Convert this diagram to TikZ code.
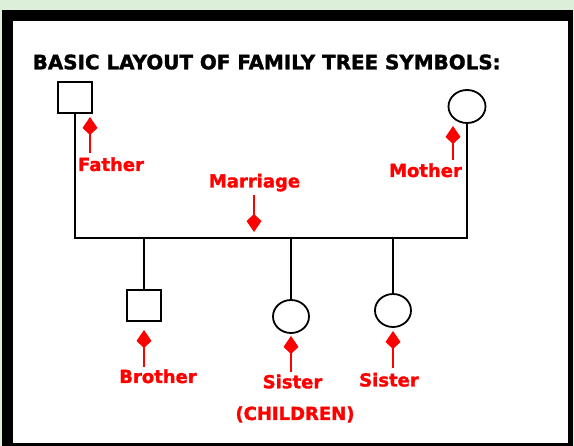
\documentclass[tikz,border=0pt]{standalone}
\usepackage{fontspec}
\setmainfont{DejaVu Sans}
\newfontfamily\heavyfont[FakeBold=1.6]{DejaVu Sans Bold}
\usetikzlibrary{arrows.meta,shapes.geometric}
\definecolor{bgreen}{HTML}{DCEFD8}
\definecolor{lred}{HTML}{FF0000}
\tikzset{
  male/.style={draw=black, line width=2pt, minimum width=34pt, minimum height=31pt, inner sep=0pt},
  female/.style={ellipse, draw=black, line width=1.8pt, inner sep=0pt},
  link/.style={draw=black, line width=2pt},
  lbl/.style={text=lred, font=\heavyfont\fontsize{18}{18}\selectfont, anchor=base, inner sep=0pt},
  pointer/.style={draw=lred, line width=2pt, -{Kite[length=18pt,width=15pt,inset=7pt]}},
}
\begin{document}
\begin{tikzpicture}[x=1pt,y=-1pt]
\useasboundingbox (0,0) rectangle (574,446);
\fill[bgreen] (0,0) rectangle (574,446);
\fill[black] (2,10) rectangle (573,446);
\fill[white] (13,21) rectangle (568,443);

\node[anchor=base west, inner sep=0pt] (title) at (32.5,69.3)
  {\resizebox{468pt}{!}{\heavyfont\fontsize{17}{17}\selectfont BASIC LAYOUT OF FAMILY TREE SYMBOLS:}};

% parents
\node[male] (father) at (75,98) {};
\node[female, minimum width=37pt, minimum height=33pt] (mother) at (467,106.5) {};
\coordinate (fj) at (75,238);
\coordinate (mj) at (467,238);
\draw[link] (father.south) -- (fj) -- (mj) -- (mother.south);

% children
\node[male] (brother) at (144,305.5) {};
\node[female, minimum width=36pt, minimum height=33pt] (sis1) at (291,316.5) {};
\node[female, minimum width=36pt, minimum height=33pt] (sis2) at (393,310.5) {};
\coordinate (bj) at (144,238);
\coordinate (s1j) at (291,238);
\coordinate (s2j) at (393,238);
\draw[link] (bj) -- (brother.north);
\draw[link] (s1j) -- (sis1.north);
\draw[link] (s2j) -- (sis2.north);

% labels
\node[lbl] (lfather) at (111,171) {Father};
\node[lbl] (lmother) at (425.5,177) {Mother};
\node[lbl] (lmarriage) at (254.5,187.5) {Marriage};
\node[lbl] (lbrother) at (158,383) {Brother};
\node[lbl] (lsis1) at (292.5,388.3) {Sister};
\node[lbl] (lsis2) at (389,386.5) {Sister};
\node[lbl] (lchildren) at (295,420) {(CHILDREN)};

% pointers
\coordinate (pf0) at (90,153); \coordinate (pf1) at (90,117);
\coordinate (pm0) at (453,160); \coordinate (pm1) at (453,126);
\coordinate (pr0) at (254,195); \coordinate (pr1) at (254,232);
\coordinate (pb0) at (144,367); \coordinate (pb1) at (144,330);
\coordinate (ps10) at (291,372); \coordinate (ps11) at (291,336);
\coordinate (ps20) at (393,368); \coordinate (ps21) at (393,331);
\draw[pointer] (pf0) -- (pf1);
\draw[pointer] (pm0) -- (pm1);
\draw[pointer] (pr0) -- (pr1);
\draw[pointer] (pb0) -- (pb1);
\draw[pointer] (ps10) -- (ps11);
\draw[pointer] (ps20) -- (ps21);
\end{tikzpicture}
\end{document}
